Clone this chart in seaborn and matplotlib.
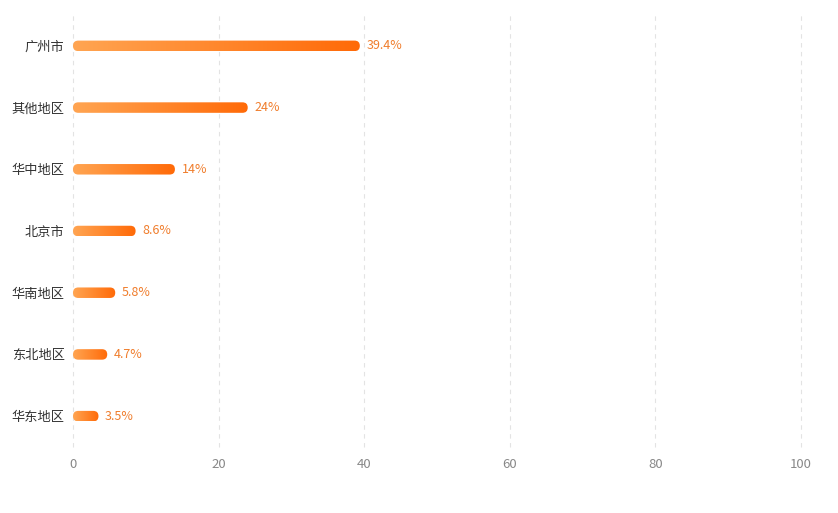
import seaborn as sns
import matplotlib.pyplot as plt
import numpy as np
import pandas as pd
from matplotlib.patches import FancyBboxPatch
from matplotlib.colors import LinearSegmentedColormap

regions = ['广州市', '其他地区', '华中地区', '北京市', '华南地区', '东北地区', '华东地区']
shares = [39.4, 24, 14, 8.6, 5.8, 4.7, 3.5]
share_labels = ['39.4%', '24%', '14%', '8.6%', '5.8%', '4.7%', '3.5%']
x_ticks = [0, 20, 40, 60, 80, 100]

sns.set_style('white')
plt.rcParams['font.family'] = ['Noto Sans CJK SC', 'DejaVu Sans']

df = pd.DataFrame({'region': regions, 'share': shares})

fig = plt.figure(figsize=(8.38, 5.13), dpi=100)
ax = fig.add_axes([73 / 838, 1 - 447 / 513, 728 / 838, 432 / 513])

bar_h = 10.5 / 61.7
sns.barplot(data=df, x='share', y='region', orient='h', width=bar_h,
            color='#ff8c33', ax=ax)

ax.set_xlim(0, 100)
ax.set_ylim(6.5, -0.5)

# px per data unit, for round caps
px_x = 728 / 100
px_y = 432 / 7
cmap = LinearSegmentedColormap.from_list('orng', ['#ffa552', '#ff6a08'])
grad = np.linspace(0, 1, 256).reshape(1, -1)

for p, lab in zip(ax.patches, share_labels):
    x0, y0 = p.get_x(), p.get_y()
    w, h = p.get_width(), p.get_height()
    p.set_visible(False)
    r = (h * px_y / 2) / px_x
    box = FancyBboxPatch((x0, y0), w, h,
                         boxstyle=f'round,pad=0,rounding_size={r}',
                         mutation_aspect=px_x / px_y,
                         facecolor='none', edgecolor='none')
    ax.add_patch(box)
    im = ax.imshow(grad, cmap=cmap, aspect='auto',
                   extent=(x0, x0 + w, y0 + h, y0), zorder=3)
    im.set_clip_path(box)
    ax.text(x0 + w + 0.9, y0 + h / 2, lab, va='center', ha='left',
            fontsize=9, fontweight='medium', color='#f07d2c', zorder=4)

ax.set_xlim(0, 100)
ax.set_ylim(6.5, -0.5)
ax.set_xticks(x_ticks)
ax.xaxis.grid(True, linestyle=(0, (4, 4)), color='#e3e3e3', linewidth=0.8)
for gl in ax.get_xgridlines():
    gl.set_clip_on(False)
ax.set_axisbelow(True)
for s in ax.spines.values():
    s.set_visible(False)
ax.set_xlabel('')
ax.set_ylabel('')
ax.tick_params(axis='x', colors='#888888', labelsize=9.5, length=0, pad=8)
ax.tick_params(axis='y', colors='#333333', labelsize=9.5, length=0, pad=6)
for t in ax.get_xticklabels():
    t.set_color('#888888')

fig.savefig('out.png', dpi=100)
